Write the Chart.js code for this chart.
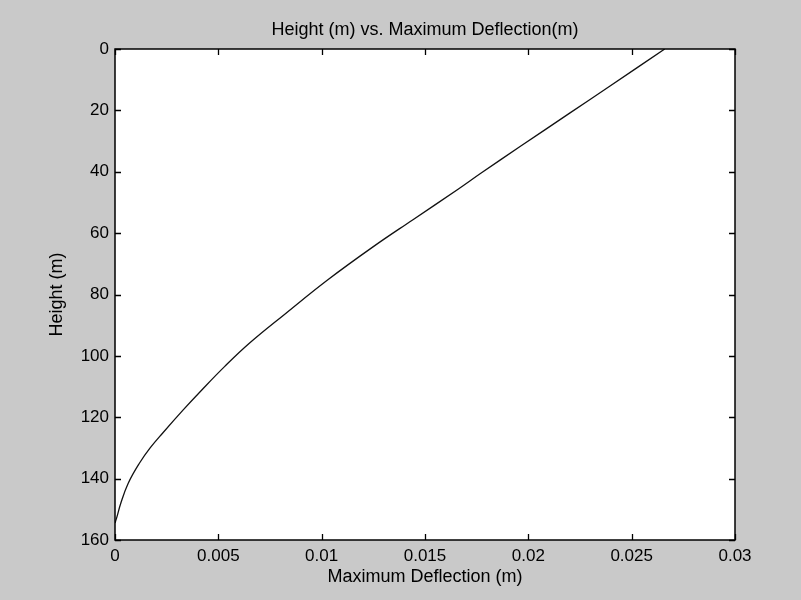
<!DOCTYPE html>
<html>
<head>
<meta charset="utf-8">
<script src="https://cdn.jsdelivr.net/npm/chart.js@4/dist/chart.umd.min.js"></script>
<style>
  html, body { margin: 0; padding: 0; background: #c9c9c9; }
  #wrap { width: 801px; height: 600px; }
</style>
</head>
<body>
<div id="wrap"><canvas id="c" width="801" height="600"></canvas></div>
<script>
// Height (m)
const heights = [0, 12.3, 20.9, 31.8, 40.5, 45.7, 55.7, 64.4, 75.2, 86.5, 95.9, 103.5, 111.1, 117.6, 125.2, 130, 135, 141.5, 148, 152.3, 154.5];
// Maximum deflection (m) at each height
const deflections = [0.0266, 0.0239, 0.0220, 0.0196, 0.0177, 0.0166, 0.0144, 0.0125, 0.0103, 0.0082, 0.0065, 0.0053, 0.0042, 0.0033, 0.0023, 0.0017, 0.00118, 0.00064, 0.00028, 0.0001, 0];

const xTicks = [0, 0.005, 0.01, 0.015, 0.02, 0.025, 0.03];
const yTicks = [0, 20, 40, 60, 80, 100, 120, 140, 160];

const chartTitle = 'Height (m) vs. Maximum Deflection(m)';
const xTitle = 'Maximum Deflection (m)';
const yTitle = 'Height (m)';

const points = heights.map((h, i) => ({ x: deflections[i], y: h }));

const FONT = 'Liberation Sans, Arial, Helvetica, sans-serif';

const framePlugin = {
  id: 'frame',
  beforeDraw(chart) {
    const ctx = chart.ctx;
    const a = chart.chartArea;
    ctx.save();
    ctx.fillStyle = '#c9c9c9';
    ctx.fillRect(0, 0, chart.width, chart.height);
    ctx.fillStyle = '#ffffff';
    ctx.fillRect(a.left, a.top, a.right - a.left, a.bottom - a.top);
    ctx.restore();
  },
  afterDraw(chart) {
    const ctx = chart.ctx;
    const a = chart.chartArea;
    const xs = chart.scales.x, ys = chart.scales.y;
    const L = 6;
    ctx.save();
    ctx.strokeStyle = '#000';
    ctx.lineWidth = 1.3;
    ctx.beginPath();
    xTicks.forEach(v => {
      const px = Math.round(xs.getPixelForValue(v)) + 0.5;
      ctx.moveTo(px, a.bottom); ctx.lineTo(px, a.bottom - L);
      ctx.moveTo(px, a.top); ctx.lineTo(px, a.top + L);
    });
    yTicks.forEach(v => {
      const py = Math.round(ys.getPixelForValue(v)) + 0.5;
      ctx.moveTo(a.left, py); ctx.lineTo(a.left + L, py);
      ctx.moveTo(a.right, py); ctx.lineTo(a.right - L, py);
    });
    ctx.stroke();
    ctx.lineWidth = 1.5;
    ctx.strokeRect(a.left, a.top, a.right - a.left, a.bottom - a.top);
    ctx.restore();
  }
};

new Chart(document.getElementById('c'), {
  type: 'scatter',
  data: {
    datasets: [{
      data: points,
      showLine: true,
      borderColor: '#111',
      borderWidth: 1.3,
      pointRadius: 0,
      tension: 0.4,
      fill: false
    }]
  },
  options: {
    responsive: false,
    animation: false,
    layout: { padding: { left: 0, right: 66, top: 0, bottom: 0 } },
    plugins: {
      legend: { display: false },
      tooltip: { enabled: false },
      title: {
        display: true,
        fullSize: false,
        text: chartTitle,
        color: '#000',
        font: { family: FONT, size: 18, weight: 'normal' },
        padding: { top: 19, bottom: 8.4 }
      }
    },
    scales: {
      x: {
        type: 'linear',
        min: 0, max: 0.03,
        afterBuildTicks(scale) { scale.ticks = xTicks.map(v => ({ value: v })); },
        afterFit(scale) { scale.height = 60; },
        grid: { display: false, drawTicks: false },
        border: { display: false },
        ticks: {
          color: '#000',
          padding: 6,
          maxRotation: 0,
          font: { family: FONT, size: 17 },
          callback: v => String(v)
        },
        title: {
          display: true,
          text: xTitle,
          color: '#000',
          font: { family: FONT, size: 18 },
          padding: { top: 0, bottom: 12 }
        }
      },
      y: {
        type: 'linear',
        reverse: true,
        min: 0, max: 160,
        afterBuildTicks(scale) { scale.ticks = yTicks.map(v => ({ value: v })); },
        afterFit(scale) { scale.width = 115; },
        grid: { display: false, drawTicks: false },
        border: { display: false },
        ticks: {
          color: '#000',
          padding: 6,
          font: { family: FONT, size: 17 },
          callback: v => String(v)
        },
        title: {
          display: true,
          text: yTitle,
          color: '#000',
          font: { family: FONT, size: 18 },
          padding: { top: 46, bottom: 0 }
        }
      }
    }
  },
  plugins: [framePlugin]
});
</script>
</body>
</html>
